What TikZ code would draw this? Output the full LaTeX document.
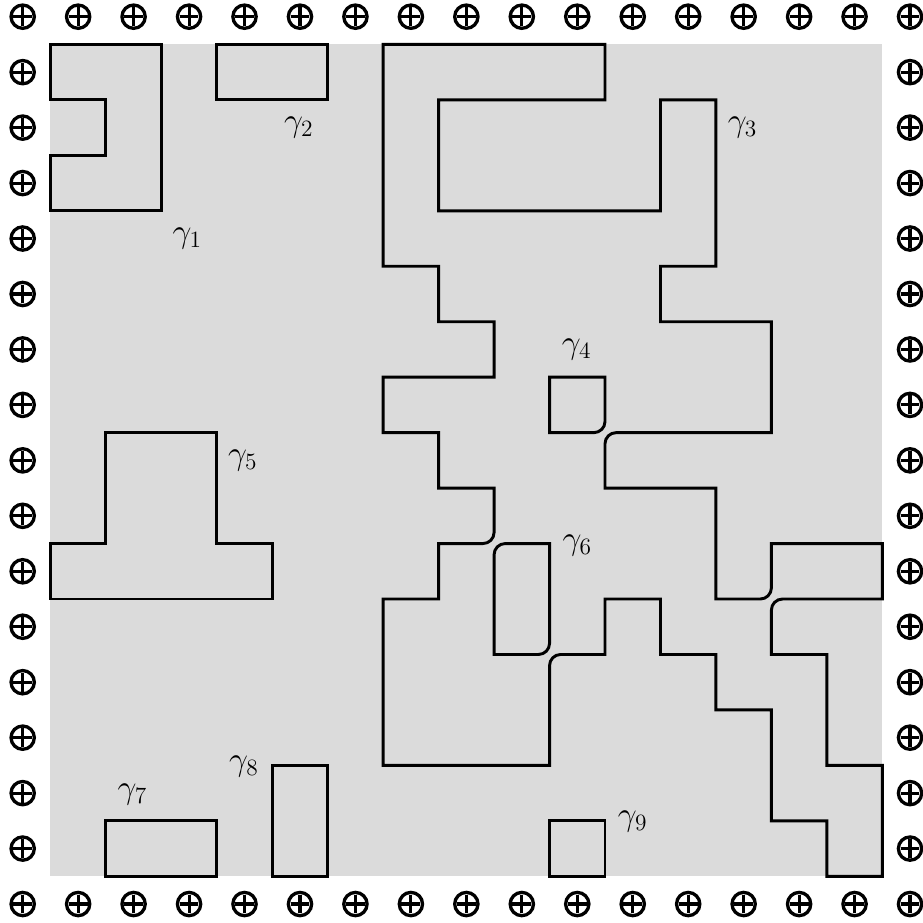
\documentclass[tikz,border=0pt]{standalone}

\begin{document}
\begin{tikzpicture}[
  x=1cm, y=-1cm,
  font=\LARGE,
  sheet/.style={fill=black!14, draw=none},
  loopline/.style={draw=black, line width=1.5pt, line join=miter},
  gammatag/.style={inner sep=1pt},
  oplus/.pic={
    \draw[line width=1.7pt] (0,0) circle (0.21);
    \draw[line width=1.6pt] (-0.17,0) -- (0.17,0) (0,-0.17) -- (0,0.17);
  }
]

  \useasboundingbox (-0.909,-0.801) rectangle (15.716,15.842);

  % Hoja gris interior
  \fill[sheet] (0,0) rectangle (15,15);

  % Sitios del borde
  \foreach \i in {-0.5,0.5,...,15.5} {
    \pic at (\i,-0.5) {oplus};
    \pic at (\i,15.5) {oplus};
  }
  \foreach \i in {0.5,1.5,...,14.5} {
    \pic at (-0.5,\i) {oplus};
    \pic at (15.5,\i) {oplus};
  }

  % Curvas cerradas
  \draw[loopline] (0,0) -- (2,0) -- (2,3) -- (0,3) -- (0,2) -- (1,2) -- (1,1) -- (0,1) -- cycle;
  \draw[loopline] (3,0) rectangle (5,1);
  \draw[loopline] (6,0) -- (10,0) -- (10,1) -- (7,1) -- (7,3) -- (11,3) -- (11,1) -- (12,1)
    -- (12,4) -- (11,4) -- (11,5) -- (13,5) -- (13,7) -- (10.2,7)
    .. controls (10.09,7) and (10,7.09) .. (10,7.2) -- (10,8) -- (12,8) -- (12,10) -- (12.8,10)
    .. controls (12.91,10) and (13,9.91) .. (13,9.8) -- (13,9) -- (15,9) -- (15,10) -- (13.2,10)
    .. controls (13.09,10) and (13,10.09) .. (13,10.2) -- (13,11) -- (14,11) -- (14,13) -- (15,13)
    -- (15,15) -- (14,15) -- (14,14) -- (13,14) -- (13,12) -- (12,12) -- (12,11) -- (11,11)
    -- (11,10) -- (10,10) -- (10,11) -- (9.2,11)
    .. controls (9.09,11) and (9,11.09) .. (9,11.2) -- (9,13) -- (6,13) -- (6,10) -- (7,10)
    -- (7,9) -- (7.8,9) .. controls (7.91,9) and (8,8.91) .. (8,8.8) -- (8,8) -- (7,8) -- (7,7)
    -- (6,7) -- (6,6) -- (8,6) -- (8,5) -- (7,5) -- (7,4) -- (6,4) -- cycle;
  \draw[loopline] (9,6) -- (10,6) -- (10,6.8) .. controls (10,6.91) and (9.91,7) .. (9.8,7)
    -- (9,7) -- cycle;
  \draw[loopline] (1,7) -- (3,7) -- (3,9) -- (4,9) -- (4,10) -- (0,10) -- (0,9) -- (1,9) -- cycle;
  \draw[loopline] (8,9.2) .. controls (8,9.09) and (8.09,9) .. (8.2,9) -- (9,9) -- (9,10.8)
    .. controls (9,10.91) and (8.91,11) .. (8.8,11) -- (8,11) -- cycle;
  \draw[loopline] (1,14) rectangle (3,15);
  \draw[loopline] (4,13) rectangle (5,15);
  \draw[loopline] (9,14) rectangle (10,15);

  % Etiquetas
  \node[gammatag] (g1) at (2.47,3.5) {$\gamma_1$};
  \node[gammatag] (g2) at (4.48,1.5) {$\gamma_2$};
  \node[gammatag] (g3) at (12.48,1.5) {$\gamma_3$};
  \node[gammatag] (g4) at (9.49,5.5) {$\gamma_4$};
  \node[gammatag] (g5) at (3.47,7.5) {$\gamma_5$};
  \node[gammatag] (g6) at (9.5,9.04) {$\gamma_6$};
  \node[gammatag] (g7) at (1.48,13.53) {$\gamma_7$};
  \node[gammatag] (g8) at (3.49,13.02) {$\gamma_8$};
  \node[gammatag] (g9) at (10.5,14.01) {$\gamma_9$};

\end{tikzpicture}
\end{document}
